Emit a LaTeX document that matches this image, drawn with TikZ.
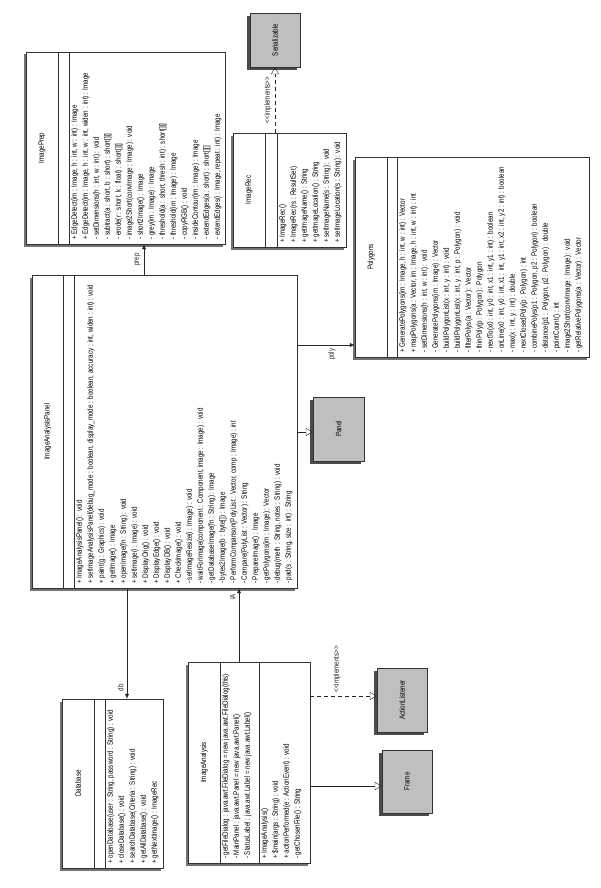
\documentclass[tikz,border=0pt]{standalone}
\usepackage{fontspec}
\setmainfont{Liberation Sans}[FakeStretch=0.8]
\usetikzlibrary{arrows.meta,shadows}

\begin{document}
\begin{tikzpicture}[x=1pt,y=-1pt]

\tikzset{classe/.style={draw=black!80,fill=white,rectangle,inner sep=0pt,drop shadow={shadow xshift=-2.5pt,shadow yshift=-2.5pt,fill=black!55,opacity=1}}, %boite de classe
	interface/.style={draw=black!80,fill=gray!50,rectangle,inner sep=0pt,drop shadow={shadow xshift=-3pt,shadow yshift=-3pt,fill=black!70,opacity=1}},
	texte/.style={font=\fontsize{7.8}{11}\selectfont,rotate=90},
	liste/.style={texte,align=left,anchor=north west,inner sep=0pt},
	assoc/.style={-{Latex[length=5pt,width=4pt]},black!85},
	herite/.style={-{Triangle[open,length=7pt,width=8pt]},black!85},
	realise/.style={herite,dash pattern=on 4pt off 3pt}}
\useasboundingbox (0,0) rectangle (600,888);

%----------ImagePrep------------
\node[classe,minimum width=199pt,minimum height=192pt] (prep) at (125.5,148) {};
\draw[black!80] (58,52) -- (58,244) (69,52) -- (69,244);
\node[texte] at (42,148) {ImagePrep};
\node[liste] at (71,240) {+ EdgeDetect(im : Image, h : int, w : int) : Image\\
	+ EdgeDetect(im : Image, h : int, w : int, widen : int) : Image\\
	- setDimensions(h : int, w : int) : void\\
	- subtract(a : short, b : short) : short[][]\\
	- erode(r : short, k : float) : short[][]\\
	- image2Short(convImage : Image) : void\\
	- short2Image() : Image\\
	- grey(im : Image) : Image\\
	- threshold(a : short, thresh : int) : short[][]\\
	- threshold(im : Image) : Image\\
	- copyRGB() : void\\
	- insideContour(im : Image) : Image\\
	- extendEdges(a : short) : short[][]\\
	- extendEdges(i : Image, repeat : int) : Image};

%----------Serializable------------
\node[interface,minimum width=50pt,minimum height=54pt] (serial) at (275,40) {};
\node[texte] at (275,40) {Serializable};

%----------ImageRec------------
\node[classe,minimum width=113pt,minimum height=114pt] (imrec) at (289.5,190) {};
\draw[black!80] (265,133) -- (265,247) (277,133) -- (277,247);
\node[texte] at (249,190) {ImageRec};
\node[liste] at (279,243) {+ ImageRec()\\
	+ ImageRec(rs : ResultSet)\\
	+ getImageName() : String\\
	+ getImageLocation() : String\\
	+ setImageName(s : String) : void\\
	+ setImageLocation(s : String) : void};

%----------Polygons------------
\node[classe,minimum width=234pt,minimum height=200pt] (polys) at (472,257) {};
\draw[black!80] (387,157) -- (387,357) (397,157) -- (397,357);
\node[texte] at (371,257) {Polygons};
\node[liste] at (399,353) {+ GeneratePolygons(im : Image, h : int, w : int) : Vector\\
	+ mapPolygons(a : Vector, im : Image, h : int, w : int) : int\\
	- setDimensions(h : int, w : int) : void\\
	- GeneratePolygons(im : Image) : Vector\\
	- buildPolygonList(x : int, y : int) : void\\
	- buildPolygonList(x : int, y : int, p : Polygon) : void\\
	- filterPolys(a : Vector) : Vector\\
	- thinPoly(p : Polygon) : Polygon\\
	- nextTo(x0 : int, y0 : int, x1 : int, y1 : int) : boolean\\
	- onLine(x0 : int, y0 : int, x1 : int, y1 : int, x2 : int, y2 : int) : boolean\\
	- max(x : int, y : int) : double\\
	- nextClosedPoly(p : Polygon) : int\\
	- combinePolys(p1 : Polygon, p2 : Polygon) : boolean\\
	- distance(p1 : Polygon, p2 : Polygon) : double\\
	- pointCount() : int\\
	- image2Short(convImage : Image) : void\\
	- getRelativePolygons(a : Vector) : Vector};

%----------ImageAnalysisPanel------------
\node[classe,minimum width=265pt,minimum height=313pt] (iap) at (164.5,431.5) {};
\draw[black!80] (63,275) -- (63,588) (74,275) -- (74,588);
\node[texte] at (47.5,431.5) {ImageAnalysisPanel};
\node[liste] at (76,584) {+ ImageAnalysisPanel() : void\\
	+ setImageAnalysisPanel(debug\_mode : boolean, display\_mode : boolean, accuracy : int, widen : int) : void\\
	+ paint(g : Graphics) : void\\
	+ getImage() : Image\\
	+ openImage(fn : String) : void\\
	+ setImage(i : Image) : void\\
	+ DisplayOrig() : void\\
	+ DisplayEdge() : void\\
	+ DisplayDB() : void\\
	+ CheckImage() : void\\
	- setImageResize(i : Image) : void\\
	- waitForImage(component : Component, image : Image) : void\\
	- getDatabaseImage(fn : String) : Image\\
	- bytes2Image(b : byte[]) : Image\\
	- PerformComparison(PolyList : Vector, comp : Image) : int\\
	- Compare(PolyList : Vector) : String\\
	- PrepareImage() : Image\\
	- getPolygons(im : Image) : Vector\\
	- debug(meth : String, notes : String) : void\\
	- pad(s : String, size : int) : String};

%----------Panel------------
\node[interface,minimum width=51pt,minimum height=64pt] (panel) at (338.5,429) {};
\node[texte] at (338.5,429) {Panel};

%----------Database------------
\node[classe,minimum width=101pt,minimum height=169pt] (db) at (112.5,783.5) {};
\draw[black!80] (94,699) -- (94,868) (105,699) -- (105,868);
\node[texte] at (78,783.5) {Database};
\node[liste] at (107,864) {+ openDatabase(user : String, password : String) : void\\
	+ closeDatabase() : void\\
	+ searchDatabase(Criteria : String) : void\\
	+ getAllDatabase() : void\\
	+ getNextImage() : ImageRec};

%----------ImageAnalysis------------
\node[classe,minimum width=122pt,minimum height=201pt] (ia) at (249,762.5) {};
\draw[black!80] (220,662) -- (220,863) (259,662) -- (259,863);
\node[texte] at (204,762.5) {ImageAnalysis};
\node[liste] at (222,859) {- getFileDialog : java.awt.FileDialog = new java.awt.FileDialog(this)\\
	- MainPanel : java.awt.Panel = new java.awt.Panel()\\
	- StatusLabel : java.awt.Label = new java.awt.Label()};
\node[liste] at (261,859) {+ ImageAnalysis()\\
	+ \$main(args : String) : void\\
	+ actionPerformed(e : ActionEvent) : void\\
	- getChosenFile() : String};

%----------ActionListener, Frame------------
\node[interface,minimum width=50pt,minimum height=64pt] (al) at (402,700) {};
\node[texte] at (402,700) {ActionListener};
\node[interface,minimum width=50pt,minimum height=63pt] (frame) at (407,781.5) {};
\node[texte] at (407,781.5) {Frame};

%liens
\draw[assoc] (144,0 |- iap.north) -- (144,0 |- prep.south) node[texte,midway,anchor=south] {prep};
\draw[assoc] (iap.east |- 0,345) -- (polys.west |- 0,345) node[texte,pos=0.6,anchor=east] {poly};
\draw[herite] (iap.east |- 0,432) -- (panel.west |- 0,432);
\draw[assoc] (239,0 |- ia.north) -- (239,0 |- iap.south) node[texte,pos=0.88,anchor=south] {IA};
\draw[assoc] (127,0 |- iap.south) -- (127,0 |- db.north) node[texte,pos=0.9,anchor=south] {db};
\draw[realise] (275,0 |- imrec.north) -- (275,0 |- serial.south) node[texte,midway,anchor=south] {<{}<implements>{}>};
\draw[realise] (ia.east |- 0,696) -- (al.west |- 0,696) node[texte,pos=0.4,anchor=west] {<{}<implements>{}>};
\draw[herite] (ia.east |- 0,786) -- (frame.west |- 0,786);

\end{tikzpicture}
\end{document}
